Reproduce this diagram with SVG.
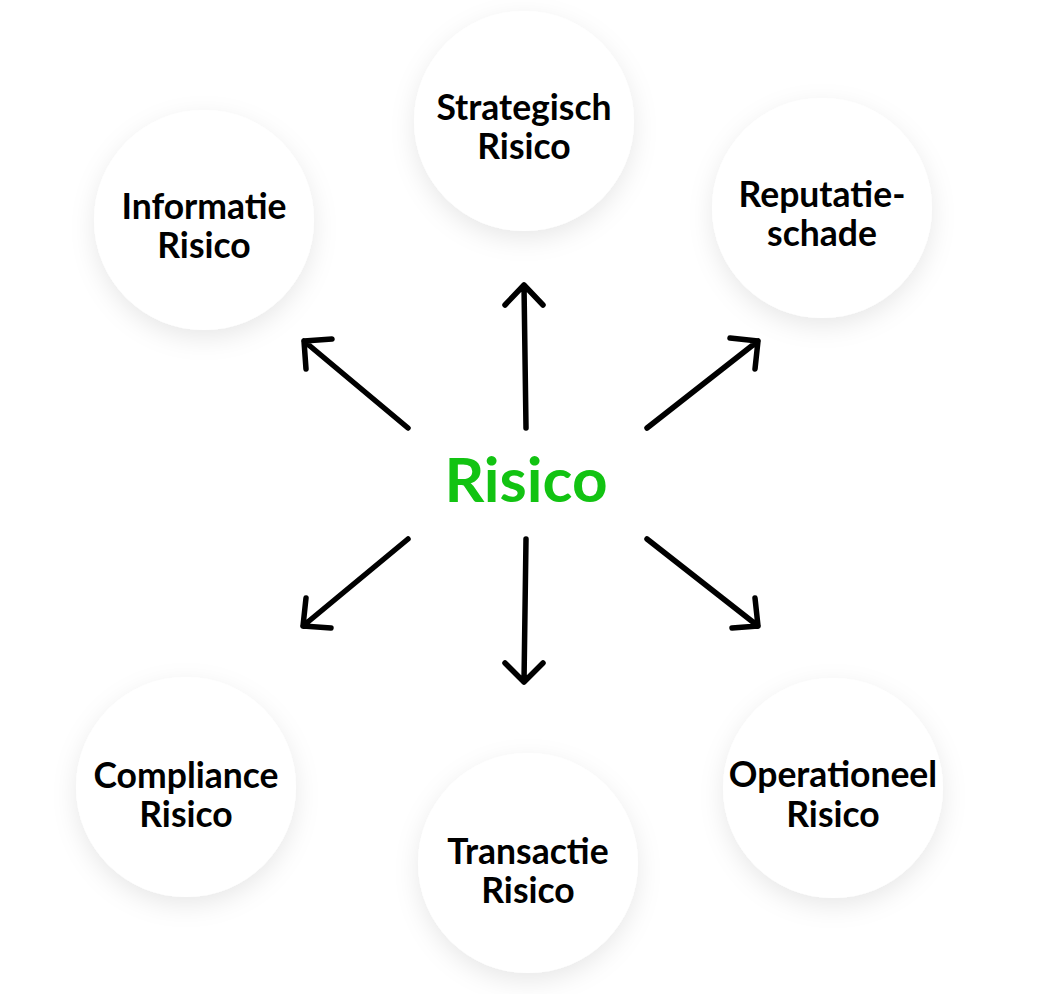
<svg xmlns="http://www.w3.org/2000/svg" width="1052" height="994" viewBox="0 0 1052 994">
  <defs>
    <filter id="shadow" x="-30%" y="-30%" width="160%" height="160%">
      <feDropShadow dx="0" dy="8" stdDeviation="12" flood-color="#000" flood-opacity="0.09"/>
    </filter>
    <style>
      .bubble { fill: #ffffff; filter: url(#shadow); }
      .label { font-family: Lato, "Liberation Sans", sans-serif; font-weight: 700; font-size: 35.5px; fill: #000; text-anchor: middle; }
      .center { font-family: Lato, "Liberation Sans", sans-serif; font-weight: 700; font-size: 62px; fill: #12c312; text-anchor: middle; }
      .arrow { fill: none; stroke: #000; stroke-width: 5.5; stroke-linecap: round; stroke-linejoin: round; }
    </style>
  </defs>
  <rect width="1052" height="994" fill="#ffffff"/>

  <g id="node-strategisch">
    <circle class="bubble" cx="524" cy="121" r="110"/>
    <text class="label" x="524" y="120">Strategisch</text>
    <text class="label" x="524" y="159">Risico</text>
  </g>
  <g id="node-informatie">
    <circle class="bubble" cx="204" cy="220" r="110"/>
    <text class="label" x="204" y="219">Informatie</text>
    <text class="label" x="204" y="258">Risico</text>
  </g>
  <g id="node-reputatie">
    <circle class="bubble" cx="822" cy="208" r="110"/>
    <text class="label" x="822" y="207">Reputatie-</text>
    <text class="label" x="822" y="246">schade</text>
  </g>
  <g id="node-compliance">
    <circle class="bubble" cx="186" cy="787" r="110"/>
    <text class="label" x="186" y="788">Compliance</text>
    <text class="label" x="186" y="827">Risico</text>
  </g>
  <g id="node-transactie">
    <circle class="bubble" cx="528" cy="863" r="110"/>
    <text class="label" x="528" y="864">Transactie</text>
    <text class="label" x="528" y="903">Risico</text>
  </g>
  <g id="node-operationeel">
    <circle class="bubble" cx="833" cy="788" r="110"/>
    <text class="label" x="833" y="787">Operationeel</text>
    <text class="label" x="833" y="827">Risico</text>
  </g>
  <g id="node-risico">
    <text class="center" x="526" y="502">Risico</text>
  </g>

  <g id="connectors">
    <path class="arrow" d="M526 428 L524 285 M505 305 L524 285 L543 305"/>
    <path class="arrow" d="M408 428 L304 341 M306 369 L304 341 L332 339"/>
    <path class="arrow" d="M647 428 L758 341 M730 338 L758 341 L755 369"/>
    <path class="arrow" d="M408 539 L303 626 M306 598 L303 626 L331 628"/>
    <path class="arrow" d="M647 539 L758 626 M755 598 L758 626 L732 628"/>
    <path class="arrow" d="M526 539 L524 682 M505 663 L524 682 L543 663"/>
  </g>
</svg>
